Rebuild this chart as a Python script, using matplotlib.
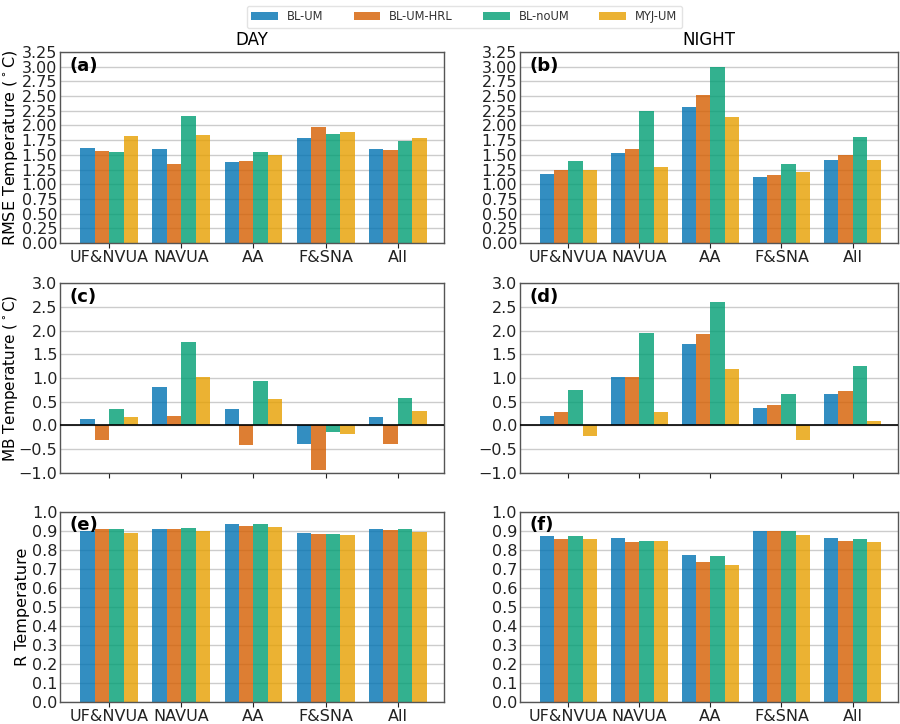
import numpy as np
import matplotlib
matplotlib.use("Agg")
import matplotlib.pyplot as plt

regions = ["UF&NVUA", "NAVUA", "AA", "F&SNA", "All"]
models = ["BL-UM", "BL-UM-HRL", "BL-noUM", "MYJ-UM"]
colors = ["#0072b2", "#d55e00", "#009e73", "#e69f00"]

# RMSE day / night  (rows: models, cols: regions)
rmse_day = [
    [1.61, 1.60, 1.37, 1.78, 1.60],
    [1.565, 1.345, 1.39, 1.97, 1.59],
    [1.54, 2.16, 1.55, 1.86, 1.73],
    [1.82, 1.84, 1.49, 1.88, 1.78],
]
rmse_night = [
    [1.17, 1.53, 2.31, 1.13, 1.42],
    [1.24, 1.60, 2.51, 1.16, 1.50],
    [1.39, 2.25, 2.99, 1.34, 1.81],
    [1.25, 1.29, 2.15, 1.21, 1.41],
]
mb_day = [
    [0.13, 0.81, 0.34, -0.38, 0.17],
    [-0.31, 0.20, -0.42, -0.94, -0.38],
    [0.34, 1.755, 0.94, -0.13, 0.58],
    [0.17, 1.03, 0.56, -0.17, 0.31],
]
mb_night = [
    [0.20, 1.03, 1.71, 0.37, 0.66],
    [0.28, 1.03, 1.92, 0.44, 0.73],
    [0.74, 1.94, 2.59, 0.66, 1.26],
    [-0.23, 0.29, 1.20, -0.30, 0.09],
]
r_day = [
    [0.900, 0.908, 0.932, 0.887, 0.906],
    [0.908, 0.907, 0.925, 0.880, 0.904],
    [0.906, 0.913, 0.933, 0.882, 0.906],
    [0.885, 0.899, 0.917, 0.877, 0.890],
]
r_night = [
    [0.871, 0.861, 0.770, 0.899, 0.859],
    [0.856, 0.842, 0.734, 0.899, 0.843],
    [0.870, 0.847, 0.767, 0.897, 0.854],
    [0.857, 0.847, 0.721, 0.875, 0.837],
]

fig = plt.figure(figsize=(9, 7.24), dpi=100)

rows_y = [(0.6644, 0.9282), (0.3467, 0.6091), (0.0310, 0.2935)]
cols_x = [(0.0667, 0.4267), (0.5778, 0.4200)]

panels = [
    [(rmse_day, "(a)"), (rmse_night, "(b)")],
    [(mb_day, "(c)"), (mb_night, "(d)")],
    [(r_day, "(e)"), (r_night, "(f)")],
]
ylabels = [r"RMSE Temperature ($^\circ$C)", r"MB Temperature ($^\circ$C)", "R Temperature"]
yticks_list = [np.arange(0, 3.26, 0.25), np.arange(-1.0, 3.01, 0.5), np.arange(0, 1.01, 0.1)]
ylims = [(0, 3.25), (-1.0, 3.0), (0, 1.0)]
ytfmt = ["{:.2f}", "{:.1f}", "{:.1f}"]

x = np.arange(len(regions))
w = 0.2
handles = None
for ri in range(3):
    y0, y1 = rows_y[ri]
    for ci in range(2):
        x0, ww = cols_x[ci]
        ax = fig.add_axes([x0, y0, ww, y1 - y0])
        data, letter = panels[ri][ci]
        hs = []
        for mi in range(4):
            h = ax.bar(x + (mi - 1.5) * w, data[mi], width=w, color=colors[mi],
                       alpha=0.8, linewidth=0, zorder=2, label=models[mi])
            hs.append(h)
        handles = hs
        ax.set_ylim(*ylims[ri])
        ax.set_yticks(yticks_list[ri])
        ax.set_yticklabels([ytfmt[ri].format(v).replace("-", "\u2212") for v in yticks_list[ri]])
        ax.set_xlim(-0.68, 4.64)
        ax.set_xticks(x)
        if ri == 1:
            ax.set_xticklabels([])
            ax.axhline(0, color="black", linewidth=1.2, zorder=3)
        else:
            ax.set_xticklabels(regions)
        ax.yaxis.grid(True, color="#cccccc", linewidth=1.0, zorder=0)
        ax.set_axisbelow(True)
        ax.tick_params(axis="both", labelsize=11.5, colors="#222222", length=3.5)
        ax.tick_params(axis="y", length=0, pad=2)
        ax.tick_params(axis="x", pad=1.5)
        for s in ax.spines.values():
            s.set_color("#555555")
            s.set_linewidth(1.0)
        ax.text(0.025, 0.975, letter, transform=ax.transAxes, fontsize=13,
                fontweight="bold", va="top", ha="left", zorder=5)
        if ci == 0:
            ax.set_ylabel(ylabels[ri], fontsize=11.5 if ri != 1 else 11, labelpad=1)
            if ri == 1:
                ax.yaxis.set_label_coords(-0.104, 0.5)
        if ri == 0:
            ax.set_title("DAY" if ci == 0 else "NIGHT", fontsize=12, pad=5)

fig.legend(handles, models, loc="upper center", bbox_to_anchor=(0.516, 1.0), ncol=4,
           fontsize=8.3, handlelength=2.3, columnspacing=2.6, frameon=True,
           edgecolor="#dddddd", borderpad=0.4, labelcolor="#333333")

fig.savefig("out.png", dpi=100)
